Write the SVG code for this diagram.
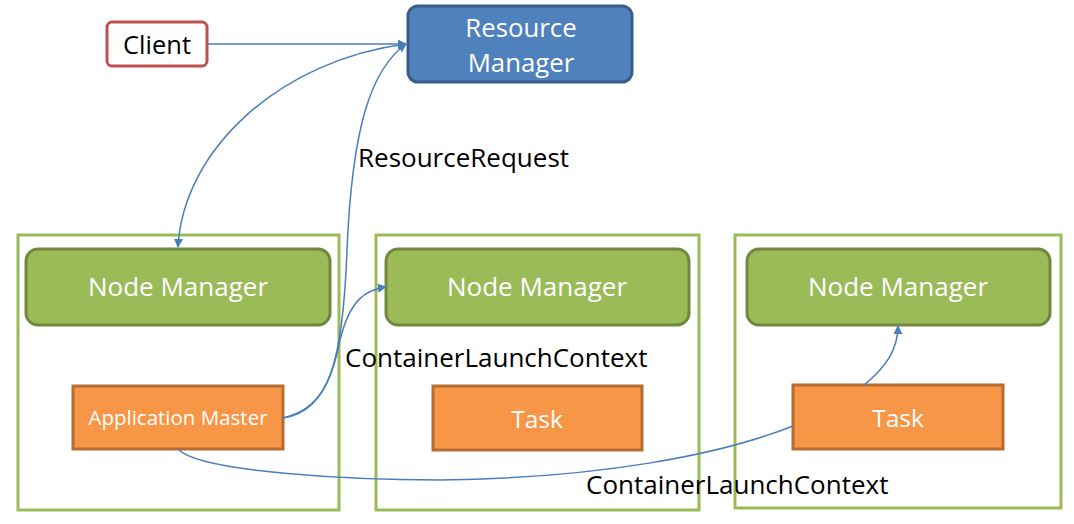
<svg xmlns="http://www.w3.org/2000/svg" width="1074" height="524" viewBox="0 0 1074 524">
<defs>
<marker id="arr" viewBox="0 0 10 10" refX="9" refY="5" markerWidth="9" markerHeight="9" markerUnits="userSpaceOnUse" orient="auto-start-reverse">
<path d="M0,0 L10,5 L0,10 z" fill="#4a7ebb"/>
</marker>
</defs>
<style>
.t{font-family:"Open Sans","Liberation Sans",sans-serif;}
.w{fill:#fff;}
.k{fill:#000;}
.cont{fill:none;stroke:#9bbb59;stroke-width:3;}
.nm{fill:#9bbb59;stroke:#71893f;stroke-width:3;}
.or{fill:#f79646;stroke:#b66d31;stroke-width:3;}
.c{fill:none;stroke:#4a7ebb;stroke-width:1.5;}
</style>
<rect width="1074" height="524" fill="#fff"/>
<g id="container1"><rect class="cont" x="18" y="235" width="321" height="275"/></g>
<g id="container2"><rect class="cont" x="376" y="235" width="323" height="275"/></g>
<g id="container3"><rect class="cont" x="735" y="235" width="326" height="273"/></g>
<g id="client"><rect x="107" y="22" width="100" height="44" rx="5" fill="#fff" stroke="#c0504d" stroke-width="3"/><text class="t k" x="157" y="54" font-size="25.5" text-anchor="middle">Client</text></g>
<g id="rm"><rect x="408" y="6" width="224" height="76" rx="10" fill="#4f81bd" stroke="#385d8a" stroke-width="3"/><text class="t w" x="521" y="37" font-size="25.8" text-anchor="middle">Resource</text><text class="t w" x="521" y="72" font-size="25.8" text-anchor="middle">Manager</text></g>
<g id="nm1"><rect class="nm" x="26" y="249" width="304" height="76" rx="12"/><text class="t w" x="178" y="296" font-size="26" text-anchor="middle">Node Manager</text></g>
<g id="nm2"><rect class="nm" x="386" y="249" width="303" height="76" rx="12"/><text class="t w" x="537" y="296" font-size="26" text-anchor="middle">Node Manager</text></g>
<g id="nm3"><rect class="nm" x="747" y="249" width="303" height="76" rx="12"/><text class="t w" x="898" y="296" font-size="26" text-anchor="middle">Node Manager</text></g>
<g id="am"><rect class="or" x="73" y="386" width="210" height="63"/><text class="t w" x="178" y="425" font-size="20.5" text-anchor="middle">Application Master</text></g>
<g id="task1"><rect class="or" x="433" y="386" width="209" height="64"/><text class="t w" x="537" y="428" font-size="24.5" text-anchor="middle">Task</text></g>
<g id="task2"><rect class="or" x="793" y="385" width="210" height="64"/><text class="t w" x="898" y="427" font-size="24.5" text-anchor="middle">Task</text></g>
<g id="connectors">
<path class="c" d="M207,44 L406,44" marker-end="url(#arr)"/>
<path class="c" d="M178,247 C183,150 280,60 406,44" marker-start="url(#arr)" marker-end="url(#arr)"/>
<path class="c" d="M283,418 C330,410 343,360 347,250 C352,130 370,70 406,44" marker-end="url(#arr)"/>
<path class="c" d="M283,418 C320,410 332,380 340,340 C350,300 365,290 386,287" marker-end="url(#arr)"/>
<path class="c" d="M178,449 C200,473 360,480 440,480 C600,478 720,455 793,426"/>
<path class="c" d="M864,385 C885,368 898,350 898,326" marker-end="url(#arr)"/>
</g>
<g id="labels">
<text class="t k" x="358" y="167" font-size="26">ResourceRequest</text>
<text class="t k" x="345" y="367" font-size="26">ContainerLaunchContext</text>
<text class="t k" x="586" y="494" font-size="26">ContainerLaunchContext</text>
</g>
</svg>
